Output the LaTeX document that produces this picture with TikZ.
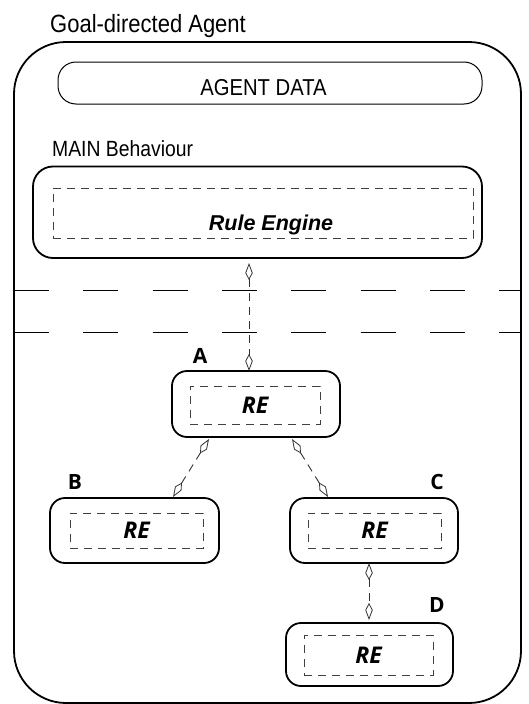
\documentclass[tikz,border=0pt]{standalone}
\usepackage{fontspec}
\setmainfont{Liberation Sans}
\newfontfamily\narrowfont[FakeStretch=0.88]{Liberation Sans}
\newfontfamily\hfont{Open Sans}
\usetikzlibrary{arrows.meta,calc}
\begin{document}
\begin{tikzpicture}[x=1pt,y=-1pt,
  bigbox/.style={draw, line width=1.8pt, rounded corners=#1, inner sep=0pt, outer sep=0pt},
  rebox/.style={draw, line width=1.8pt, rounded corners=15pt, inner sep=0pt, outer sep=0pt},
  innerbox/.style={draw=black!75, line width=1pt, dash pattern=on 8pt off 6pt, inner sep=0pt, outer sep=0pt},
  retext/.style={font=\hfont\bfseries\itshape\fontsize{23}{26}\selectfont},
  lbl/.style={font=\hfont\bfseries\fontsize{21}{24}\selectfont, anchor=base},
  conn/.style={draw=black!80, line width=0.9pt, dash pattern=on 8pt off 6pt,
    {Kite[open,length=17pt,width=7.5pt,inset=7pt,line width=0.8pt]}-{Kite[open,length=17pt,width=7.5pt,inset=7pt,line width=0.8pt]}},
  hdash/.style={draw, line width=1.2pt, dash pattern=on 35pt off 34.3pt}
]
\useasboundingbox (0,0) rectangle (529,704);
% outer agent box
\node[bigbox=52pt, minimum width=507pt, minimum height=661pt] (agent) at (267.5,372.5) {};
\node[font=\narrowfont\fontsize{25}{30}\selectfont, anchor=base west, inner sep=0pt] (title) at (50,32) {Goal-directed Agent};
% agent data
\node[draw, line width=1pt, rounded corners=18pt, minimum width=424pt, minimum height=42pt, inner sep=0pt] (data) at (270,83) {};
\node[font=\narrowfont\fontsize{23}{27}\selectfont, anchor=base, inner sep=0pt] (datatext) at (263.5,95) {AGENT DATA};
% main behaviour
\node[font=\narrowfont\fontsize{22}{26}\selectfont, anchor=base west, inner sep=0pt] (maintitle) at (52,156) {MAIN Behaviour};
\node[bigbox=20pt, minimum width=449pt, minimum height=91.5pt] (main) at (257.5,212.25) {};
\node[innerbox, minimum width=420pt, minimum height=50pt] (maini) at (263,213) {};
\node[font=\bfseries\itshape\fontsize{21.5}{25}\selectfont, anchor=base, inner sep=0pt] (rule) at (271,230) {Rule Engine};
% separators
\draw[hdash] (14,290.7) -- (521,290.7);
\draw[hdash] (14,332.3) -- (521,332.3);
% RE boxes
\node[rebox, minimum width=168pt, minimum height=66pt] (A) at (256,404) {};
\node[innerbox, minimum width=130pt, minimum height=38pt, retext] (Ai) at (255,405) {RE};
\node[rebox, minimum width=169pt, minimum height=65pt] (B) at (134.5,530.5) {};
\node[innerbox, minimum width=133pt, minimum height=35pt, retext] (Bi) at (136.5,530.5) {RE};
\node[rebox, minimum width=168pt, minimum height=65pt] (C) at (374,530.5) {};
\node[innerbox, minimum width=133pt, minimum height=35pt, retext] (Ci) at (374.5,530.5) {RE};
\node[rebox, minimum width=167pt, minimum height=63pt] (D) at (369.5,654.5) {};
\node[innerbox, minimum width=129pt, minimum height=40pt, retext] (Di) at (368.5,655) {RE};
% labels
\node[lbl] (la) at (200,363) {A};
\node[lbl] (lb) at (75,489) {B};
\node[lbl] (lc) at (437,489) {C};
\node[lbl] (ld) at (437,612) {D};
% connectors
\draw[conn] ($(main.south)+(-8.5,5)$) -- ($(A.north)+(-7,0)$);
\draw[conn] ($(A.south)+(-47,2)$) -- ($(B.north)+(38.5,-1)$);
\draw[conn] ($(A.south)+(36,2)$) -- ($(C.north)+(-46,-1)$);
\draw[conn] ($(C.south)+(-5,0)$) -- ($(D.north)+(-0.5,-3)$);
\end{tikzpicture}
\end{document}
